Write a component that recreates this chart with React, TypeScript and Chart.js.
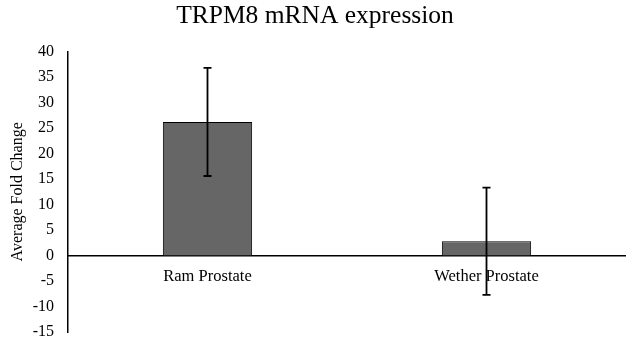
import React, { useEffect, useRef } from "react";
import { Chart, registerables } from "chart.js";

Chart.register(...registerables);

const categories = ["Ram Prostate", "Wether Prostate"];
const means = [26.2, 2.8];
const errors = [10.6, 10.5];
const yTicks = { min: -15, max: 40, step: 5 };

const errorBarPlugin = {
  id: "errorBars",
  afterDatasetsDraw(chart: any) {
    const { ctx, scales } = chart;
    const meta = chart.getDatasetMeta(0);
    const y = scales.y;
    ctx.save();
    ctx.strokeStyle = "#000";
    ctx.lineWidth = 1.8;
    meta.data.forEach((bar: any, i: number) => {
      const x = bar.x;
      const top = y.getPixelForValue(means[i] + errors[i]);
      const bot = y.getPixelForValue(means[i] - errors[i]);
      ctx.beginPath();
      ctx.moveTo(x, top);
      ctx.lineTo(x, bot);
      ctx.moveTo(x - 4, top);
      ctx.lineTo(x + 4, top);
      ctx.moveTo(x - 4, bot);
      ctx.lineTo(x + 4, bot);
      ctx.stroke();
    });
    ctx.restore();
  },
};

export default function App() {
  const ref = useRef<HTMLCanvasElement>(null);
  useEffect(() => {
    if (!ref.current) return;
    const font = "'Liberation Serif', 'Times New Roman', serif";
    const chart = new Chart(ref.current, {
      type: "bar",
      data: {
        labels: categories,
        datasets: [
          {
            data: means,
            backgroundColor: "#666666",
            borderColor: "#000000",
            borderWidth: 1,
            barPercentage: 0.32,
            categoryPercentage: 1,
          },
        ],
      },
      plugins: [errorBarPlugin],
      options: {
        animation: false,
        responsive: false,
        maintainAspectRatio: false,
        layout: { padding: { left: 0, right: -4, top: 0, bottom: 11 } },
        plugins: {
          legend: { display: false },
          tooltip: { enabled: false },
          title: {
            display: true,
            text: "TRPM8 mRNA expression",
            color: "#000",
            font: { family: font, size: 25.5, weight: "normal" },
            padding: { top: 1, bottom: 20 },
          },
        },
        scales: {
          x: {
            position: { y: 0 } as any,
            afterFit(scale: any) {
              scale.height = 0;
              scale.paddingTop = 0;
              scale.paddingBottom = 0;
            },
            grid: { display: false, drawTicks: false },
            border: { display: true, color: "#000", width: 1.5 },
            ticks: {
              color: "#000",
              font: { family: font, size: 16.5 },
              padding: 11,
            },
          },
          y: {
            min: yTicks.min,
            max: yTicks.max,
            afterFit(scale: any) {
              scale.width = 68;
              scale.paddingBottom = 0;
            },
            grid: { display: false, drawTicks: false },
            border: { display: true, color: "#000", width: 1.5 },
            ticks: {
              stepSize: yTicks.step,
              color: "#000",
              font: { family: font, size: 16 },
              padding: 14,
            },
            title: {
              display: true,
              text: "Average Fold Change",
              color: "#000",
              font: { family: font, size: 16 },
              padding: { top: 8, bottom: 0 },
            },
          },
        },
      },
    });
    return () => chart.destroy();
  }, []);
  return (
    <div style={{ position: "absolute", left: 0, top: 0, width: 626, height: 343, overflow: "hidden" }}>
      <canvas ref={ref} width={626} height={343} />
    </div>
  );
}
